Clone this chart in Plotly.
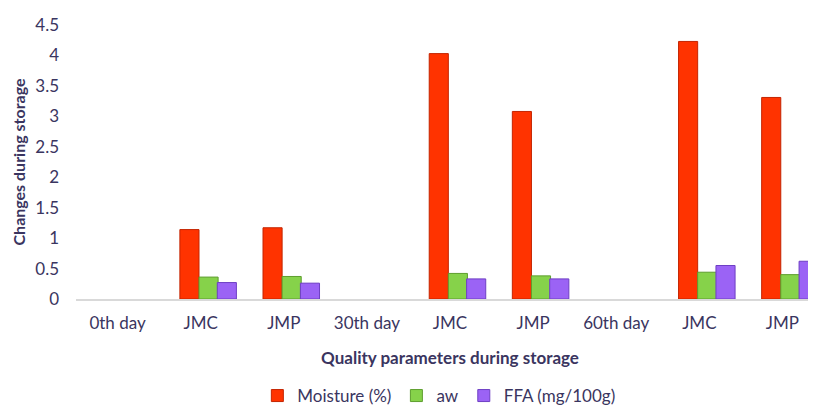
import plotly.graph_objects as go

categories = ["0th day", "JMC", "JMP", "30th day", "JMC", "JMP", "60th day", "JMC", "JMP"]
moisture = [None, 1.14, 1.17, None, 4.03, 3.08, None, 4.23, 3.31]
aw = [None, 0.36, 0.37, None, 0.42, 0.38, None, 0.44, 0.40]
ffa = [None, 0.27, 0.26, None, 0.33, 0.33, None, 0.55, 0.62]

series_names = ["Moisture (%)", "aw", "FFA (mg/100g)"]
series_values = [moisture, aw, ffa]
colors = ["#FF3300", "#86D24A", "#9B63F5"]
line_colors = ["#C42400", "#5E9E2E", "#6E3FC4"]
offsets = [-0.25, -0.02, 0.20]

x_pos = list(range(len(categories)))
text_color = "#3A3560"
font_family = "Lato, 'Open Sans', sans-serif"

fig = go.Figure()
for name, vals, c, lc, off in zip(series_names, series_values, colors, line_colors, offsets):
    fig.add_trace(go.Bar(
        x=x_pos, y=vals, name=name,
        marker=dict(color=c, line=dict(color=lc, width=1)),
        width=0.23, offset=off, cliponaxis=True,
    ))

fig.update_layout(
    width=816, height=406,
    margin=dict(l=68, r=0, t=17, b=115),
    paper_bgcolor="white", plot_bgcolor="white",
    font=dict(family=font_family, color=text_color, size=17),
    showlegend=True,
    legend=dict(orientation="h", xref="container", yref="container",
                x=0.528, xanchor="center", y=-0.005, yanchor="bottom",
                font=dict(size=17, color=text_color), itemwidth=30,
                traceorder="normal"),
)
fig.update_xaxes(
    tickmode="array", tickvals=x_pos, ticktext=categories,
    range=[-0.5, 8.5], showgrid=False, zeroline=False, automargin=False,
    showline=True, linecolor="#D9D9D9", linewidth=2,
    ticks="", ticklabelstandoff=8,
    tickfont=dict(size=17, color=text_color),
    title=dict(text="<b>Quality parameters during storage</b>",
               font=dict(size=17, color=text_color), standoff=20),
)
fig.update_yaxes(
    range=[0, 4.5], dtick=0.5, showgrid=False, zeroline=False, automargin=False,
    showline=False, ticks="", ticklabelstandoff=16,
    tickfont=dict(size=17, color=text_color),
    title=dict(text="<b>Changes during storage</b>",
               font=dict(size=16, color=text_color), standoff=5),
)

fig.write_html("out.html")
